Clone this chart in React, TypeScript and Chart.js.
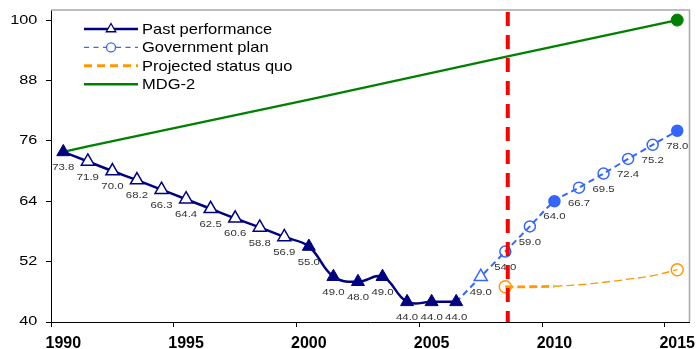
import React, { useEffect, useRef } from 'react';
import { Chart, registerables } from 'chart.js';

Chart.register(...registerables);

// ---------------- data ----------------
const YEARS = [
  '1990', '1991', '1992', '1993', '1994', '1995', '1996', '1997', '1998', '1999',
  '2000', '2001', '2002', '2003', '2004', '2005', '2006', '2007', '2008', '2009',
  '2010', '2011', '2012', '2013', '2014', '2015',
];
const YEAR_LABELS = ['1990', '1995', '2000', '2005', '2010', '2015'];
const Y_TICKS = [40, 52, 64, 76, 88, 100];
const Y_MIN = 40;
const Y_MAX = 102;

const PAST = [
  73.8, 71.9, 70.0, 68.2, 66.3, 64.4, 62.5, 60.6, 58.8, 56.9,
  55.0, 49.0, 48.0, 49.0, 44.0, 44.0, 44.0, null, null, null,
  null, null, null, null, null, null,
];
const PAST_MARKERS = [
  'filledtri', 'opentri', 'opentri', 'opentri', 'opentri', 'opentri', 'opentri', 'opentri', 'opentri', 'opentri',
  'filledtri', 'filledtri', 'filledtri', 'filledtri', 'filledtri', 'filledtri', 'filledtri', 'none', 'none', 'none',
  'none', 'none', 'none', 'none', 'none', 'none',
];
const PAST_LABELS = [
  true, true, true, true, true, true, true, true, true, true,
  true, true, true, true, true, true, true, false, false, false,
  false, false, false, false, false, false,
];

const PLAN = [
  null, null, null, null, null, null, null, null, null, null,
  null, null, null, null, null, null, 44.0, 49.0, 54.0, 59.0,
  64.0, 66.7, 69.5, 72.4, 75.2, 78.0,
];
const PLAN_MARKERS = [
  'none', 'none', 'none', 'none', 'none', 'none', 'none', 'none', 'none', 'none',
  'none', 'none', 'none', 'none', 'none', 'none', 'none', 'opentri', 'open', 'open',
  'filled', 'open', 'open', 'open', 'open', 'filled',
];
const PLAN_LABELS = [
  false, false, false, false, false, false, false, false, false, false,
  false, false, false, false, false, false, false, true, true, true,
  true, true, true, true, true, true,
];

const STATUS_QUO = [
  null, null, null, null, null, null, null, null, null, null,
  null, null, null, null, null, null, null, null, 47.0, 47.0,
  47.1, 47.4, 47.9, 48.5, 49.2, 50.4,
];
const STATUS_QUO_MARKERS = [
  'none', 'none', 'none', 'none', 'none', 'none', 'none', 'none', 'none', 'none',
  'none', 'none', 'none', 'none', 'none', 'none', 'none', 'none', 'open', 'none',
  'none', 'none', 'none', 'none', 'none', 'open',
];
// thick dashes for the first years of the projection
const STATUS_QUO_THICK_UNTIL = '2010';

const MDG = [
  73.8, 74.9, null, null, null, null, null, null, null, null,
  84.2, null, null, null, null, null, null, null, 92.7, null,
  null, null, null, null, null, 100.0,
];
const MDG_MARKERS = [
  'none', 'none', 'none', 'none', 'none', 'none', 'none', 'none', 'none', 'none',
  'none', 'none', 'none', 'none', 'none', 'none', 'none', 'none', 'none', 'none',
  'none', 'none', 'none', 'none', 'none', 'filled',
];

const CUTOFF_YEAR = '2008';
const SERIES_NAMES = ['Past performance', 'Government plan', 'Projected status quo', 'MDG-2'];

// ---------------- styles ----------------
const FONT = '"Liberation Sans", Arial, Helvetica, sans-serif';
const NAVY = '#000080';
const BLUE = '#3366FF';
const ORANGE = '#FF9900';
const GREEN = '#008000';
const RED = '#FF0000';

function styleOf(m: string) {
  return m.endsWith('tri') ? 'triangle' : 'circle';
}
function isFilled(m: string) {
  return m.startsWith('filled');
}

function drawStretchedText(
  ctx: CanvasRenderingContext2D,
  text: string,
  x: number,
  y: number,
  font: string,
  sx: number,
  align: CanvasTextAlign,
  baseline: CanvasTextBaseline,
  color: string,
) {
  ctx.save();
  ctx.translate(x, y);
  ctx.scale(sx, 1);
  ctx.font = font;
  ctx.fillStyle = color;
  ctx.textAlign = align;
  ctx.textBaseline = baseline;
  ctx.fillText(text, 0, 0);
  ctx.restore();
}

const customPlugin = {
  id: 'customDraw',
  beforeDatasetsDraw(chart: any) {
    const { ctx, chartArea: a } = chart;
    ctx.save();
    ctx.strokeStyle = '#a8a8a8';
    ctx.lineWidth = 1.5;
    ctx.beginPath();
    ctx.moveTo(a.left, a.top);
    ctx.lineTo(a.right, a.top);
    ctx.lineTo(a.right, a.bottom);
    ctx.stroke();
    ctx.restore();
  },
  afterDatasetsDraw(chart: any) {
    const { ctx, chartArea: a } = chart;
    const xs = chart.scales.x;
    // cut-off line
    const idx = YEARS.indexOf(CUTOFF_YEAR);
    const step = xs.getPixelForValue(1) - xs.getPixelForValue(0);
    const cx = xs.getPixelForValue(idx) + step * 0.1;
    ctx.save();
    ctx.strokeStyle = RED;
    ctx.lineWidth = 4;
    ctx.setLineDash([14, 9]);
    ctx.beginPath();
    ctx.moveTo(cx, a.top + 2);
    ctx.lineTo(cx, a.bottom);
    ctx.stroke();
    ctx.restore();

    // data labels
    chart.data.datasets.forEach((ds: any, di: number) => {
      if (!ds.labelFlags) return;
      const meta = chart.getDatasetMeta(di);
      meta.data.forEach((el: any, j: number) => {
        const v = ds.data[j];
        if (v == null || !ds.labelFlags[j]) return;
        drawStretchedText(ctx, Number(v).toFixed(1), el.x, el.y + 15.5,
          `9.5px ${FONT}`, 1.2, 'center', 'middle', '#333333');
      });
    });

    // legend
    const lx0 = a.left + 33;
    const lx1 = a.left + 87;
    const lmid = (lx0 + lx1) / 2;
    const tx = a.left + 91;
    const rows = [a.top + 19, a.top + 37.4, a.top + 55.8, a.top + 74.2];
    ctx.save();
    // past performance
    ctx.strokeStyle = NAVY; ctx.lineWidth = 2.5; ctx.setLineDash([]);
    ctx.beginPath(); ctx.moveTo(lx0, rows[0]); ctx.lineTo(lx1, rows[0]); ctx.stroke();
    const r = 5.5;
    ctx.beginPath();
    ctx.moveTo(lmid, rows[0] - r);
    ctx.lineTo(lmid + r * 0.866, rows[0] + r / 2);
    ctx.lineTo(lmid - r * 0.866, rows[0] + r / 2);
    ctx.closePath();
    ctx.fillStyle = '#ffffff'; ctx.fill();
    ctx.lineWidth = 1.3; ctx.stroke();
    // government plan
    ctx.strokeStyle = BLUE; ctx.lineWidth = 1.3; ctx.setLineDash([5, 4.5]);
    ctx.beginPath(); ctx.moveTo(lx0, rows[1]); ctx.lineTo(lmid - 5, rows[1]); ctx.stroke();
    ctx.beginPath(); ctx.moveTo(lmid + 5, rows[1]); ctx.lineTo(lx1, rows[1]); ctx.stroke();
    ctx.setLineDash([]);
    ctx.beginPath(); ctx.arc(lmid, rows[1], 4.5, 0, Math.PI * 2); ctx.stroke();
    // projected status quo
    ctx.strokeStyle = ORANGE; ctx.lineWidth = 3; ctx.setLineDash([8, 5]);
    ctx.beginPath(); ctx.moveTo(lx0, rows[2]); ctx.lineTo(lx1, rows[2]); ctx.stroke();
    // MDG-2
    ctx.strokeStyle = GREEN; ctx.lineWidth = 2.5; ctx.setLineDash([]);
    ctx.beginPath(); ctx.moveTo(lx0, rows[3]); ctx.lineTo(lx1, rows[3]); ctx.stroke();
    ctx.restore();
    SERIES_NAMES.forEach((name, i) => {
      drawStretchedText(ctx, name, tx, rows[i] + 5, `15px ${FONT}`, 1.1, 'left', 'alphabetic', '#000000');
    });
  },
  afterDraw(chart: any) {
    const { ctx } = chart;
    const xs = chart.scales.x;
    const ys = chart.scales.y;
    YEAR_LABELS.forEach((lab) => {
      const i = YEARS.indexOf(lab);
      drawStretchedText(ctx, lab, xs.getPixelForValue(i), xs.top + 26,
        `bold 16px ${FONT}`, 1.0, 'center', 'alphabetic', '#000000');
    });
    Y_TICKS.forEach((v) => {
      drawStretchedText(ctx, String(v), ys.right - 13.7, ys.getPixelForValue(v),
        `12.5px ${FONT}`, 1.3, 'right', 'middle', '#000000');
    });
  },
};

export default function App() {
  const ref = useRef<HTMLCanvasElement | null>(null);

  useEffect(() => {
    if (!ref.current) return;
    const thickIdx = YEARS.indexOf(STATUS_QUO_THICK_UNTIL);
    const chart = new Chart(ref.current, {
      type: 'line',
      data: {
        labels: YEARS,
        datasets: [
          {
            label: SERIES_NAMES[0],
            data: PAST,
            borderColor: NAVY,
            borderWidth: 2.5,
            tension: 0.4,
            pointStyle: PAST_MARKERS.map(styleOf),
            pointRadius: PAST_MARKERS.map((m) => (m === 'none' ? 0 : 7.5)),
            pointBackgroundColor: PAST_MARKERS.map((m) => (isFilled(m) ? NAVY : '#ffffff')),
            pointBorderColor: NAVY,
            pointBorderWidth: PAST_MARKERS.map((m) => (isFilled(m) ? 1 : 1.5)),
            labelFlags: PAST_LABELS,
          } as any,
          {
            label: SERIES_NAMES[1],
            data: PLAN,
            borderColor: BLUE,
            borderWidth: 2,
            borderDash: [6, 4],
            tension: 0.3,
            pointStyle: PLAN_MARKERS.map(styleOf),
            pointRadius: PLAN_MARKERS.map((m) => (m === 'none' ? 0 : m === 'opentri' ? 7.5 : 5.5)),
            pointBackgroundColor: PLAN_MARKERS.map((m) =>
              isFilled(m) ? BLUE : m === 'opentri' ? '#ffffff' : 'rgba(0,0,0,0)'),
            pointBorderColor: BLUE,
            pointBorderWidth: 1.5,
            labelFlags: PLAN_LABELS,
          } as any,
          {
            label: SERIES_NAMES[2],
            data: STATUS_QUO,
            borderColor: ORANGE,
            borderWidth: 1.3,
            borderDash: [8, 4],
            tension: 0.4,
            segment: {
              borderWidth: (c: any) => (c.p1DataIndex <= thickIdx ? 2.8 : 1.3),
            },
            pointStyle: 'circle',
            pointRadius: STATUS_QUO_MARKERS.map((m) => (m === 'none' ? 0 : 6)),
            pointBackgroundColor: 'rgba(0,0,0,0)',
            pointBorderColor: ORANGE,
            pointBorderWidth: 1.5,
          } as any,
          {
            label: SERIES_NAMES[3],
            data: MDG,
            borderColor: GREEN,
            borderWidth: 2.4,
            tension: 0,
            spanGaps: true,
            pointStyle: 'circle',
            pointRadius: MDG_MARKERS.map((m) => (m === 'none' ? 0 : 6)),
            pointBackgroundColor: GREEN,
            pointBorderColor: GREEN,
            pointBorderWidth: 1,
          } as any,
        ],
      },
      options: {
        animation: false,
        responsive: true,
        maintainAspectRatio: false,
        clip: false as any,
        layout: { padding: { top: 10, right: 6, left: 0, bottom: 0 } },
        plugins: {
          legend: { display: false },
          tooltip: { enabled: false },
        },
        events: [],
        scales: {
          x: {
            type: 'category',
            offset: true,
            grid: {
              offset: true,
              drawOnChartArea: false,
              drawTicks: true,
              tickLength: 5,
              lineWidth: 1,
              color: (c: any) => (c.index !== undefined && c.index % 5 === 0 ? '#000000' : 'rgba(0,0,0,0)'),
            },
            border: { display: true, color: '#000000', width: 1 },
            ticks: { display: false, autoSkip: false },
            afterFit: (s: any) => { s.height = 27; },
          },
          y: {
            type: 'linear',
            min: Y_MIN,
            max: Y_MAX,
            grid: {
              drawOnChartArea: false,
              drawTicks: true,
              tickLength: 5,
              color: '#000000',
            },
            border: { display: true, color: '#000000', width: 1 },
            ticks: { display: false },
            afterBuildTicks: (s: any) => { s.ticks = Y_TICKS.map((v) => ({ value: v })); },
            afterFit: (s: any) => { s.width = 51; },
          },
        },
      },
      plugins: [customPlugin],
    });
    return () => chart.destroy();
  }, []);

  return (
    <div style={{ position: 'fixed', left: 0, top: 0, width: 698, height: 349, background: '#ffffff' }}>
      <canvas ref={ref} />
    </div>
  );
}
